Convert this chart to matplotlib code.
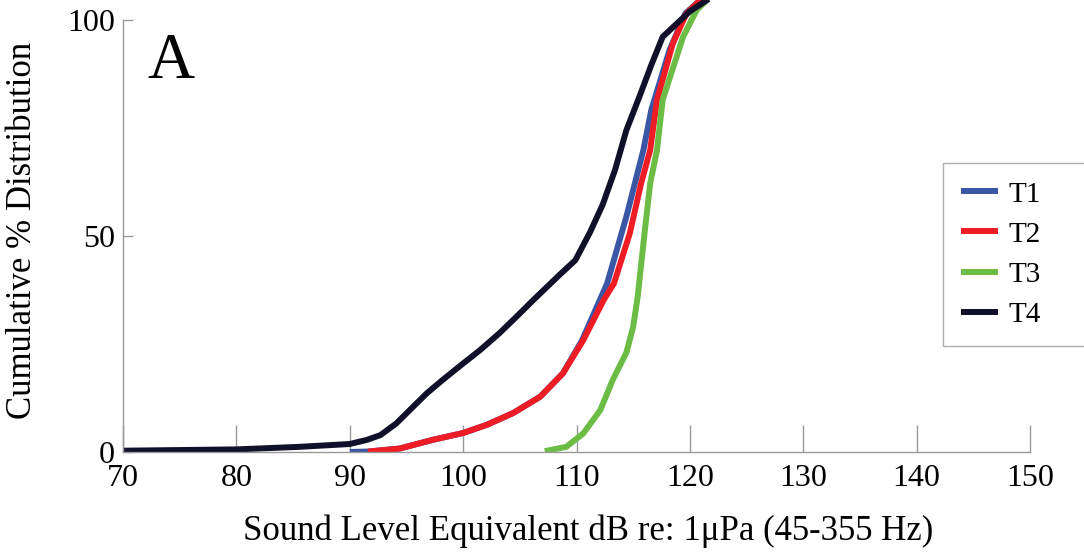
import numpy as np
import matplotlib
matplotlib.use("Agg")
import matplotlib.pyplot as plt

plt.rcParams['font.family'] = ['Liberation Serif', 'DejaVu Serif']

# values (dB, cumulative %)
t1_x = [90.0, 91.6, 94.4, 97.3, 100.0, 102.1, 104.4, 106.8, 108.8, 110.5, 112.7, 114.4, 115.9, 116.6, 118.2, 119.6, 120.9, 122.5]
t1_y = [0.0, 0.1, 0.8, 2.8, 4.4, 6.3, 9.0, 12.8, 18.2, 25.9, 39.0, 54.5, 69.9, 79.2, 93.0, 101.5, 104.6, 106.5]

t2_x = [91.6, 94.4, 97.3, 100.0, 102.1, 104.4, 106.8, 108.8, 110.6, 112.4, 113.3, 114.7, 115.7, 116.5, 117.1, 118.5, 119.7, 120.9, 122.5]
t2_y = [0.1, 0.8, 2.8, 4.4, 6.3, 9.0, 12.8, 18.2, 25.9, 35.2, 39.0, 50.6, 62.2, 69.9, 81.5, 94.6, 101.5, 104.6, 106.5]

t3_x = [107.2, 109.1, 110.6, 112.1, 113.2, 114.4, 115.0, 115.4, 116.0, 116.5, 117.1, 117.6, 119.4, 120.6, 121.5, 122.5]
t3_y = [0.2, 1.2, 4.3, 9.7, 16.7, 23.0, 29.0, 36.0, 50.6, 62.2, 69.9, 81.5, 96.1, 102.3, 104.6, 106.5]

t4_x = [70.0, 80.0, 85.6, 90.0, 91.5, 92.7, 94.1, 95.6, 96.8, 98.2, 100.0, 101.5, 103.2, 104.7, 106.2,
        108.5, 109.9, 111.2, 112.3, 113.4, 114.4, 115.6, 116.6, 117.6, 118.7, 120.0, 121.5, 122.5]
t4_y = [0.3, 0.6, 1.2, 1.85, 2.8, 3.9, 6.6, 10.5, 13.6, 16.7, 20.5, 23.6, 27.5, 31.3, 35.2,
        41.0, 44.4, 50.9, 57.2, 65.3, 74.5, 82.6, 89.6, 96.1, 98.8, 102.0, 104.6, 106.5]

series = [("T1", t1_x, t1_y, "#3b56a5"),
          ("T2", t2_x, t2_y, "#ee1d25"),
          ("T3", t3_x, t3_y, "#6bbd45"),
          ("T4", t4_x, t4_y, "#11102b")]

x_ticks = [70, 80, 90, 100, 110, 120, 130, 140, 150]
y_ticks = [0, 50, 100]

fig = plt.figure(figsize=(10.84, 5.52), dpi=100)
ax = fig.add_axes([123/1084, 1 - 452/552, (1030 - 123)/1084, 452/552])

for name, xs, ys, col in series:
    ax.plot(xs, ys, color=col, lw=4.3, label=name, solid_capstyle='butt')

ax.set_xlim(70, 150)
ax.set_ylim(0, 452/4.32)
ax.set_xticks(x_ticks)
ax.set_yticks(y_ticks)

for s in ['top', 'right']:
    ax.spines[s].set_visible(False)
ax.spines['left'].set_bounds(0, 100)
for s in ['left', 'bottom']:
    ax.spines[s].set_color('#999999')
    ax.spines[s].set_linewidth(1.0)

ax.tick_params(axis='x', direction='in', length=19.5, width=1.0, color='#999999',
               labelsize=23, pad=9)
ax.tick_params(axis='y', direction='in', length=7, width=1.0, color='#999999',
               labelsize=23, pad=6)

ax.set_xlabel('Sound Level Equivalent dB re: 1μPa (45-355 Hz)', fontsize=25)
ax.xaxis.set_label_coords((588 - 123)/907, -62/452)
ax.set_ylabel('Cumulative % Distribution', fontsize=25)
ax.yaxis.set_label_coords(-84/907, (452 - 230)/452)

ax.text(24/907, 1 - 33/452, 'A', transform=ax.transAxes, fontsize=47, va='top', ha='left')

leg = fig.legend(loc='upper left',
                 bbox_to_anchor=(943/1084, 1 - 163/552 - 0.3, 160/1084, 0.3),
                 mode='expand', fontsize=21, frameon=True, fancybox=False,
                 handlelength=1.28, handletextpad=0.35, labelspacing=0.47,
                 borderpad=0.62, borderaxespad=0)
leg.get_frame().set_edgecolor('#999999')
leg.get_frame().set_linewidth(1.0)

fig.savefig('out.png', dpi=100)
